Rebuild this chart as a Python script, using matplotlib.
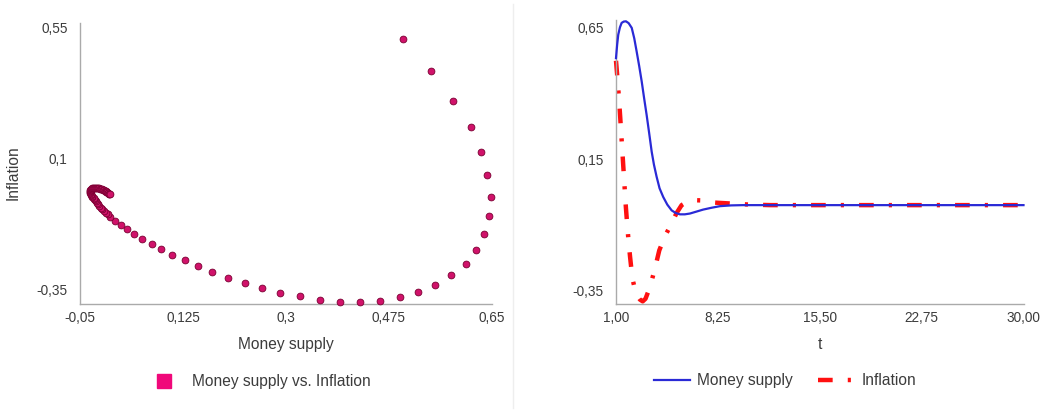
import matplotlib
matplotlib.use("Agg")
import matplotlib.pyplot as plt
from matplotlib.lines import Line2D

plt.rcParams['font.family'] = ['Liberation Sans', 'DejaVu Sans']

# ---------- Data ----------
# phase plot: money supply (x) vs inflation (y)
phase_x = [0.499, 0.546, 0.583, 0.614, 0.631, 0.642, 0.648, 0.645, 0.637, 0.623,
           0.605, 0.581, 0.554, 0.524, 0.493, 0.459, 0.425, 0.391, 0.357, 0.323,
           0.290, 0.259, 0.230, 0.201, 0.174, 0.151, 0.128, 0.107, 0.088, 0.072,
           0.056, 0.042, 0.030, 0.019, 0.009, 0.001,
           -0.003, -0.006, -0.009, -0.012, -0.015, -0.017, -0.019, -0.021, -0.023,
           -0.025, -0.026, -0.027, -0.029, -0.030, -0.031, -0.0315, -0.0325, -0.033,
           -0.033, -0.0325, -0.032, -0.031, -0.030, -0.029, -0.0275, -0.026, -0.0245,
           -0.023, -0.021, -0.019, -0.0175, -0.016, -0.0145, -0.013, -0.011, -0.009,
           -0.0075, -0.006, -0.005, -0.004, -0.003, -0.002, -0.001, 0.000, 0.001]
phase_y = [0.513, 0.402, 0.300, 0.208, 0.123, 0.043, -0.031, -0.098, -0.159, -0.214,
           -0.261, -0.301, -0.334, -0.360, -0.377, -0.389, -0.394, -0.393, -0.387, -0.374,
           -0.362, -0.346, -0.329, -0.309, -0.290, -0.269, -0.248, -0.230, -0.212, -0.193,
           -0.176, -0.159, -0.143, -0.128, -0.114, -0.099,
           -0.092, -0.086, -0.080, -0.074, -0.068, -0.062, -0.057, -0.052, -0.047,
           -0.043, -0.039, -0.035, -0.031, -0.028, -0.025, -0.021, -0.018, -0.015,
           -0.012, -0.009, -0.007, -0.005, -0.003, -0.002, -0.001, 0.000, 0.000,
           0.000, 0.000, -0.001, -0.002, -0.003, -0.004, -0.005, -0.007, -0.009,
           -0.011, -0.012, -0.014, -0.016, -0.018, -0.019, -0.020, -0.021, -0.023]

# time series
t_money = [1.0, 1.08, 1.16, 1.28, 1.4, 1.55, 1.71, 1.9, 2.12, 2.3, 2.47, 2.65, 2.83,
           3.0, 3.18, 3.36, 3.54, 3.7, 3.89, 4.1, 4.36, 4.65, 4.96, 5.25, 5.55, 5.9,
           6.26, 6.7, 7.2, 7.8, 8.39, 9.2, 10.05, 12, 15, 20, 25, 30]
money = [0.535, 0.585, 0.624, 0.652, 0.669, 0.674, 0.675, 0.668, 0.65, 0.61, 0.56,
         0.505, 0.446, 0.383, 0.319, 0.25, 0.179, 0.13, 0.084, 0.04, 0.007, -0.022,
         -0.044, -0.054, -0.059, -0.059, -0.056, -0.049, -0.041, -0.034, -0.028,
         -0.025, -0.024, -0.024, -0.024, -0.024, -0.024, -0.024]

t_infl = [1.0, 1.1, 1.2, 1.3, 1.4, 1.5, 1.6, 1.7, 1.8, 1.9, 2.0, 2.1, 2.2, 2.35, 2.5,
          2.7, 2.9, 3.1, 3.4, 3.75, 4.08, 4.5, 4.96, 5.3, 5.67, 6.1, 6.5, 7.0, 7.45,
          8.2, 9.2, 10.5, 12, 15, 20, 25, 30]
infl = [0.525, 0.46, 0.39, 0.31, 0.225, 0.14, 0.055, -0.03, -0.1, -0.165, -0.22,
        -0.27, -0.31, -0.345, -0.368, -0.383, -0.39, -0.38, -0.338, -0.27, -0.196,
        -0.14, -0.094, -0.055, -0.024, -0.01, -0.005, -0.006, -0.012, -0.015, -0.018,
        -0.022, -0.024, -0.024, -0.024, -0.024, -0.024]

left_xticks = [-0.05, 0.125, 0.3, 0.475, 0.65]
left_xlabels = ["-0,05", "0,125", "0,3", "0,475", "0,65"]
left_yticks = [-0.35, 0.1, 0.55]
left_ylabels = ["-0,35", "0,1", "0,55"]
right_xticks = [1, 8.25, 15.5, 22.75, 30]
right_xlabels = ["1,00", "8,25", "15,50", "22,75", "30,00"]
right_yticks = [-0.35, 0.15, 0.65]
right_ylabels = ["-0,35", "0,15", "0,65"]

# ---------- Figure ----------
fig = plt.figure(figsize=(10.58, 4.12), dpi=100)
ax1 = fig.add_axes([80/1058, 1-304/412, 412/1058, 281/412])
ax2 = fig.add_axes([616/1058, 1-304/412, 407.5/1058, 284/412])

text_col = "#3c3c3c"
spine_col = "#aaaaaa"

for ax in (ax1, ax2):
    for s in ("top", "right"):
        ax.spines[s].set_visible(False)
    for s in ("left", "bottom"):
        ax.spines[s].set_color(spine_col)
        ax.spines[s].set_linewidth(1.0)
    ax.tick_params(length=0, labelsize=9.8, colors=text_col, pad=5)
    ax.tick_params(axis="y", pad=9)

# ---------- Left: phase plot ----------
ax1.scatter(phase_x, phase_y, s=24, color="#d0126a", edgecolors="#7a0032",
            linewidths=0.6, clip_on=False, zorder=3)
ax1.set_xlim(-0.05, 0.65)
ax1.set_ylim(-0.40, 0.567)
ax1.set_xticks(left_xticks)
ax1.set_xticklabels(left_xlabels)
ax1.set_yticks(left_yticks)
ax1.set_yticklabels(left_ylabels)
ax1.set_xlabel("Money supply", fontsize=11.2, color=text_col, labelpad=9)
ax1.set_ylabel("Inflation", fontsize=11.2, color=text_col)
ax1.yaxis.set_label_coords(-0.143, 0.468)

h1 = Line2D([], [], marker="s", ls="none", color="#f0087a", markersize=10)
ax1.legend([h1], ["Money supply vs. Inflation"], loc="center",
           bbox_to_anchor=(0.436, -0.277), frameon=False, fontsize=11.2,
           handletextpad=0.8, labelcolor=text_col)

# ---------- Right: time series ----------
ax2.plot(t_money, money, color="#2a2ad6", lw=1.6, zorder=3, label="Money supply",
         clip_on=False)
ax2.plot(t_infl, infl, color="#ff1010", lw=3.2, dashes=(3.3, 3.4, 0.7, 3.4),
         zorder=2, label="Inflation", clip_on=False)
ax2.set_xlim(1, 30)
ax2.set_ylim(-0.40, 0.68)
ax2.set_xticks(right_xticks)
ax2.set_xticklabels(right_xlabels)
ax2.set_yticks(right_yticks)
ax2.set_yticklabels(right_ylabels)
ax2.set_xlabel("t", fontsize=11.2, color=text_col, labelpad=9)
ax2.legend(loc="center", bbox_to_anchor=(0.415, -0.27), ncol=2, frameon=False,
           fontsize=11.2, handlelength=2.3, handletextpad=0.5, columnspacing=1.6,
           labelcolor=text_col)

# separator between panels
fig.add_artist(Line2D([513/1058, 513/1058], [0.01, 0.99], color="#eeeeee", lw=1))

fig.savefig("out.png", dpi=100, facecolor="white")
